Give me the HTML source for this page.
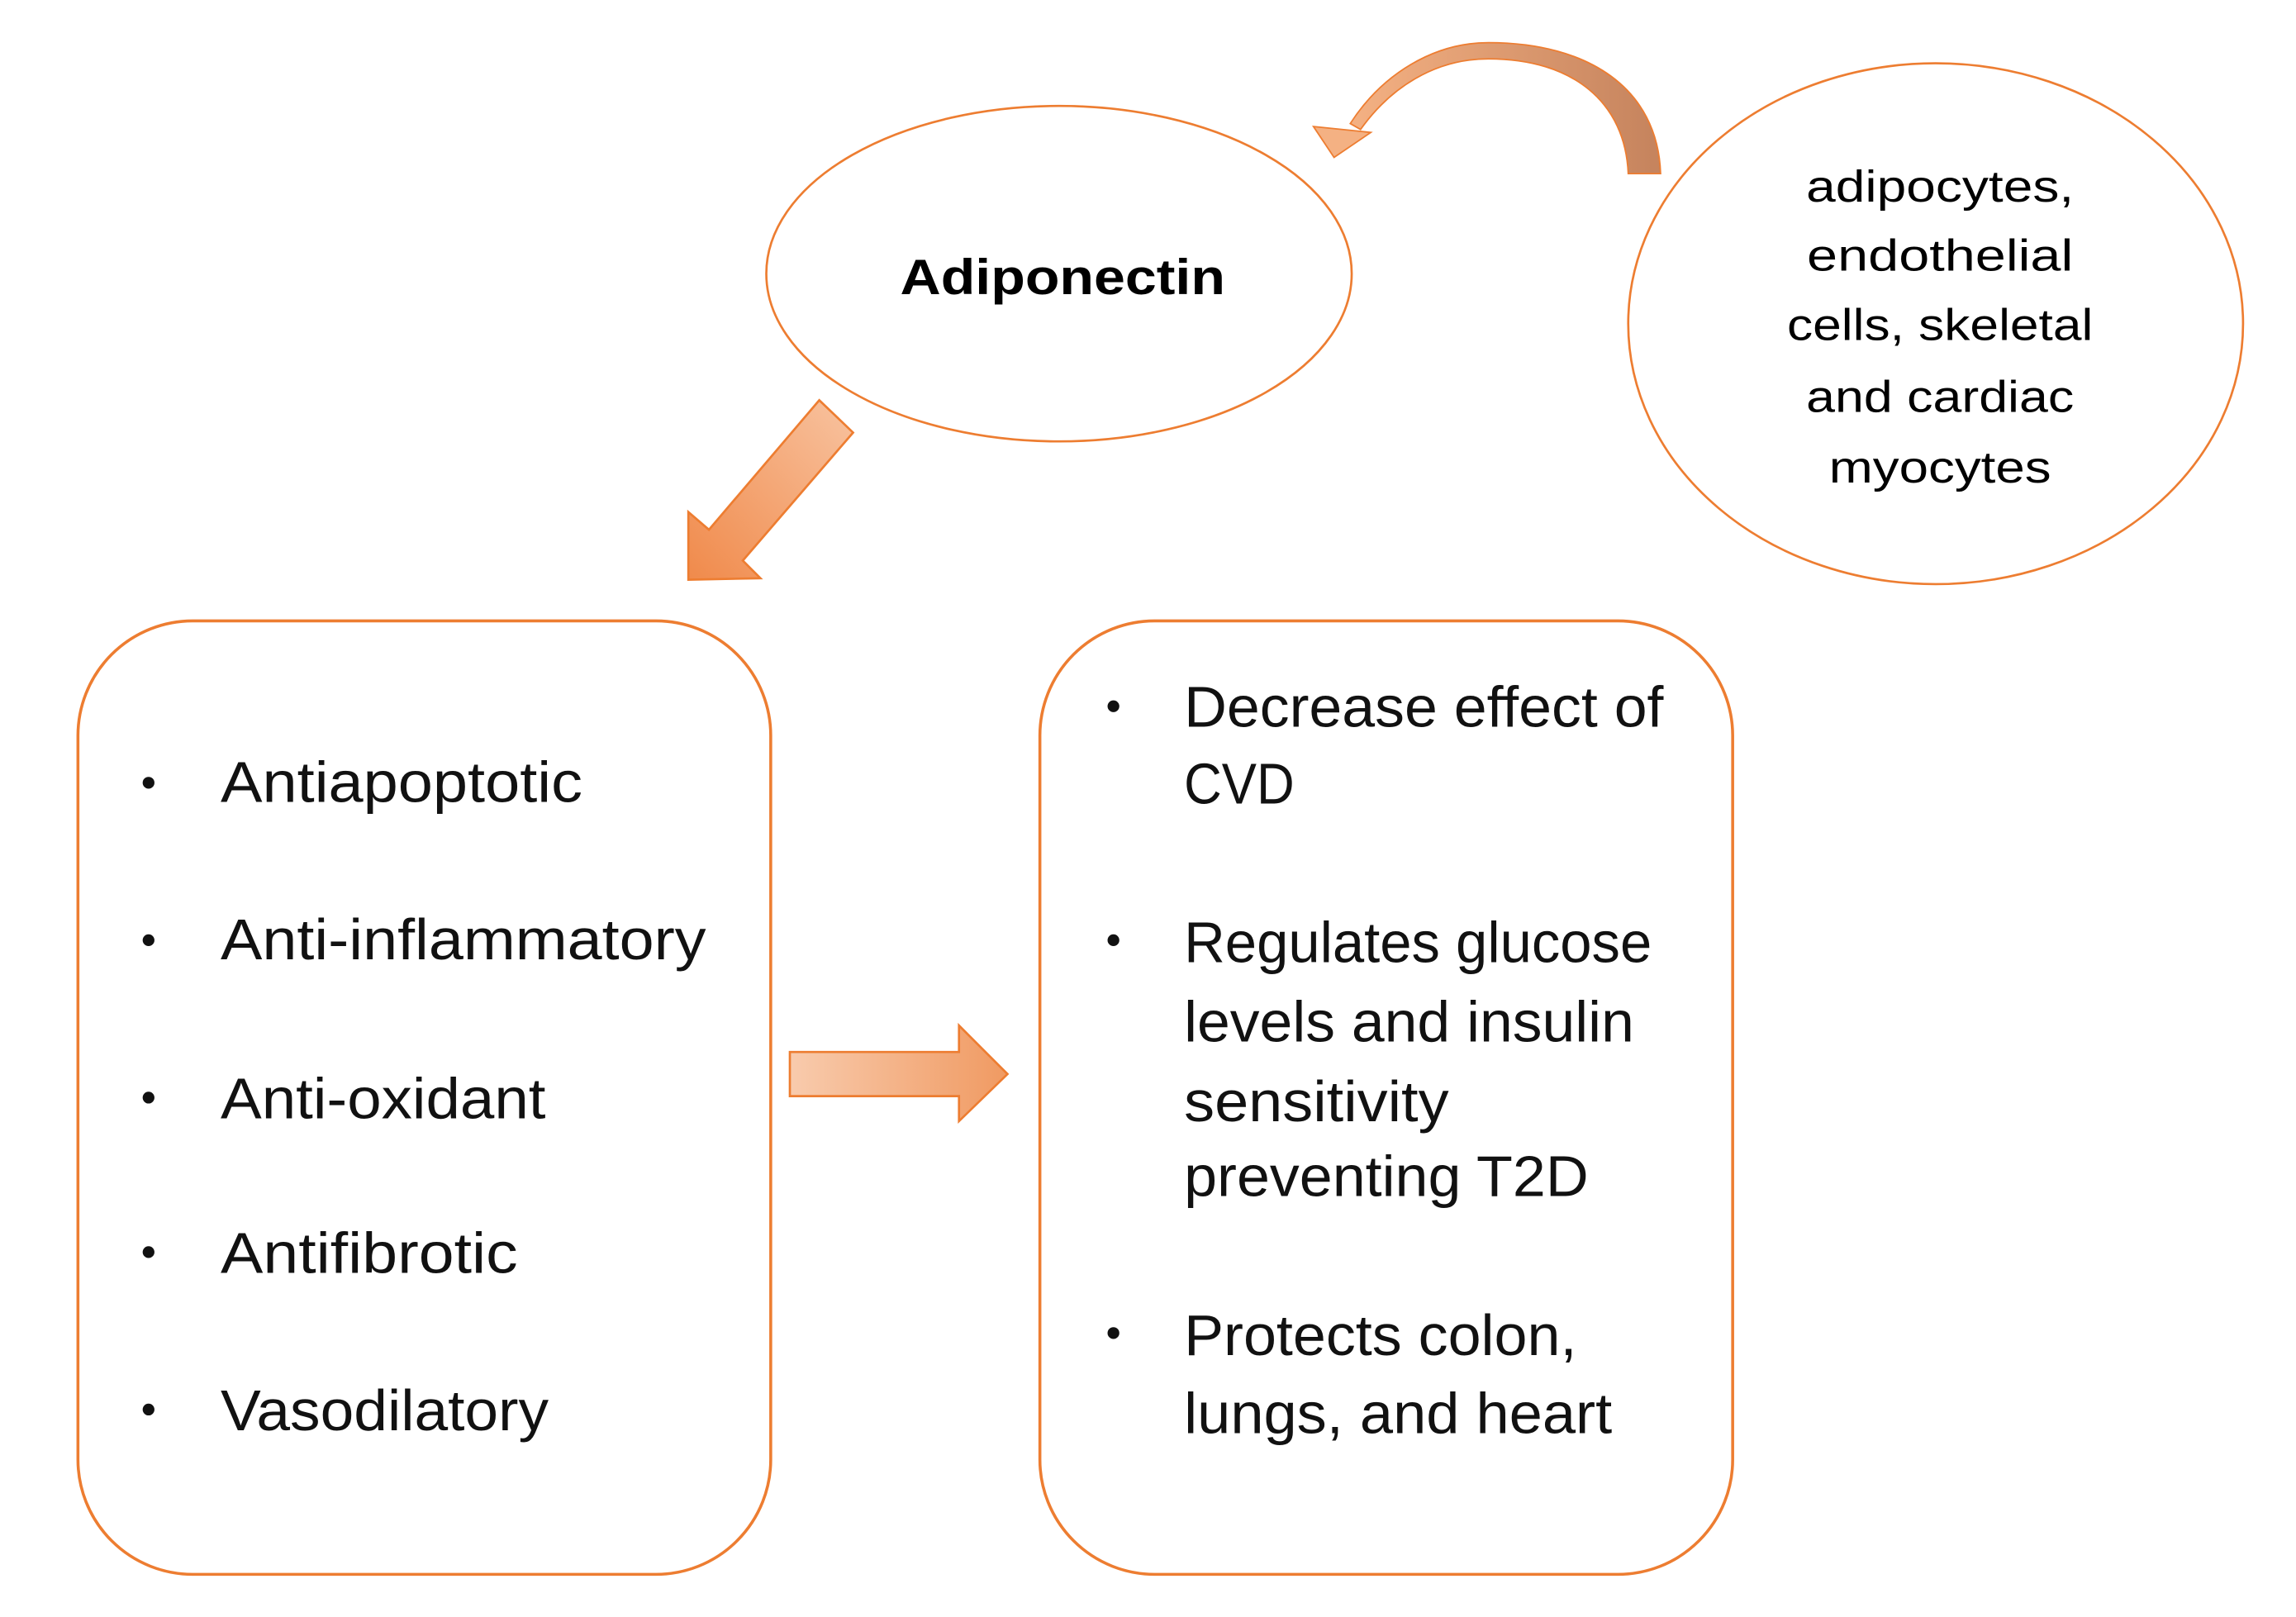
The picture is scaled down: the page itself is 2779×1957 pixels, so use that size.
<!DOCTYPE html>
<html><head><meta charset="utf-8"><style>html,body{margin:0;padding:0;background:#fff}svg{display:block}</style></head>
<body>
<svg width="2779" height="1957" viewBox="0 0 1561 1099" preserveAspectRatio="none" xmlns="http://www.w3.org/2000/svg" font-family="'Liberation Sans', sans-serif">
<defs>
<linearGradient id="gh" x1="0" x2="1" y1="0" y2="0"><stop offset="0" stop-color="#F8CBAD"/><stop offset="1" stop-color="#F09A62"/></linearGradient>
<linearGradient id="gd" x1="1" y1="0" x2="0" y2="1"><stop offset="0" stop-color="#F8C3A0"/><stop offset="1" stop-color="#F08A4B"/></linearGradient>
<linearGradient id="gc" x1="0" x2="1"><stop offset="0" stop-color="#F4B183"/><stop offset="1" stop-color="#C5835D"/></linearGradient>
</defs>
<rect width="1561" height="1099" fill="#fff"/>
<!-- ellipses -->
<ellipse cx="720" cy="186" rx="199" ry="114" fill="#fff" stroke="#ED7D31" stroke-width="1.5"/>
<ellipse cx="1316" cy="220" rx="209" ry="177" fill="#fff" stroke="#ED7D31" stroke-width="1.5"/>
<!-- boxes -->
<rect x="53" y="422" width="471" height="648" rx="78" fill="#fff" stroke="#ED7D31" stroke-width="2"/>
<rect x="707" y="422" width="471" height="648" rx="78" fill="#fff" stroke="#ED7D31" stroke-width="2"/>
<!-- curved arrow -->
<path d="M1107,118 C1105,70 1070,40 1012,40 C975,40 945,60 925,88 L918,84 C940,50 975,29 1012,29 C1080,29 1127,60 1129,118 Z" fill="url(#gc)" stroke="#ED7D31" stroke-width="1"/>
<polygon points="893,86 932,90 907,107" fill="#F4B183" stroke="#ED7D31" stroke-width="1"/>
<!-- diagonal arrow -->
<polygon points="557,272 580,294 505,381 517,393 468,394 468,348 482,360" fill="url(#gd)" stroke="#ED7D31" stroke-width="1.5"/>
<!-- right arrow -->
<polygon points="537,715 652,715 652,697 685,730 652,762 652,745 537,745" fill="url(#gh)" stroke="#ED7D31" stroke-width="1.5"/>
<!-- texts -->
<text x="612" y="200" font-size="34" font-weight="bold" textLength="221" lengthAdjust="spacingAndGlyphs">Adiponectin</text>
<g font-size="30" text-anchor="middle">
<text x="1319" y="137" textLength="182" lengthAdjust="spacingAndGlyphs">adipocytes,</text>
<text x="1319" y="184" textLength="181" lengthAdjust="spacingAndGlyphs">endothelial</text>
<text x="1319" y="231" textLength="208" lengthAdjust="spacingAndGlyphs">cells, skeletal</text>
<text x="1319" y="280" textLength="182" lengthAdjust="spacingAndGlyphs">and cardiac</text>
<text x="1319" y="328" textLength="151" lengthAdjust="spacingAndGlyphs">myocytes</text>
</g>
<g font-size="39" fill="#111">
<circle cx="101" cy="532" r="4"/><text x="150" y="545" textLength="246" lengthAdjust="spacingAndGlyphs">Antiapoptotic</text>
<circle cx="101" cy="639" r="4"/><text x="150" y="652" textLength="330" lengthAdjust="spacingAndGlyphs">Anti-inflammatory</text>
<circle cx="101" cy="746" r="4"/><text x="150" y="760" textLength="221" lengthAdjust="spacingAndGlyphs">Anti-oxidant</text>
<circle cx="101" cy="851" r="4"/><text x="150" y="865" textLength="202" lengthAdjust="spacingAndGlyphs">Antifibrotic</text>
<circle cx="101" cy="958" r="4"/><text x="150" y="972" textLength="223" lengthAdjust="spacingAndGlyphs">Vasodilatory</text>

<circle cx="757" cy="480" r="4"/><text x="805" y="494" textLength="326" lengthAdjust="spacingAndGlyphs">Decrease effect of</text>
<text x="805" y="546" textLength="75" lengthAdjust="spacingAndGlyphs">CVD</text>
<circle cx="757" cy="639" r="4"/><text x="805" y="654" textLength="318" lengthAdjust="spacingAndGlyphs">Regulates glucose</text>
<text x="805" y="708" textLength="306" lengthAdjust="spacingAndGlyphs">levels and insulin</text>
<text x="805" y="762" textLength="180" lengthAdjust="spacingAndGlyphs">sensitivity</text>
<text x="805" y="813" textLength="275" lengthAdjust="spacingAndGlyphs">preventing T2D</text>
<circle cx="757" cy="906" r="4"/><text x="805" y="921" textLength="267" lengthAdjust="spacingAndGlyphs">Protects colon,</text>
<text x="805" y="974" textLength="291" lengthAdjust="spacingAndGlyphs">lungs, and heart</text>
</g>
</svg>
</body></html>
